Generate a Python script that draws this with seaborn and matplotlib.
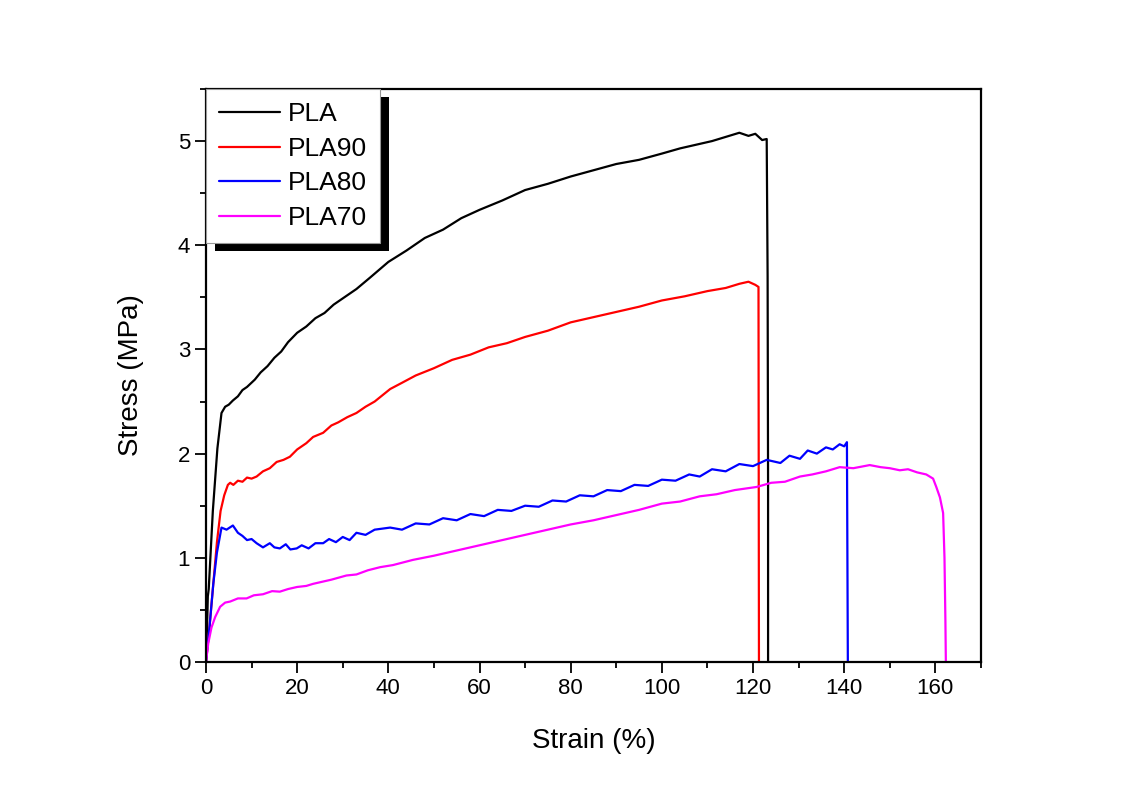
import matplotlib
matplotlib.use("Agg")
import matplotlib.pyplot as plt
from matplotlib.patches import Rectangle
from matplotlib.ticker import MultipleLocator
import seaborn as sns
import pandas as pd

# ---- data ----
pla_x = [0, 0.3, 0.4, 0.6, 1.5, 2.5, 3.4, 4.2, 5.0, 5.9, 7.0, 8.0, 9.0, 10.7, 12.0, 13.5, 15.0, 16.5, 18.0,
         20.0, 22.0, 24.0, 26.0, 28.0, 30.0, 33.0, 36.0, 40.0, 44.0, 48.0, 52.0, 56.0, 60.0, 65.0, 70.0,
         75.0, 80.0, 85.0, 90.0, 95.0, 100.0, 104.0, 108.0, 111.0, 114.0, 117.0, 119.0, 120.5, 122.0,
         123.0, 123.2, 123.3, 123.3]
pla_y = [0, 0.45, 0.63, 0.70, 1.45, 2.05, 2.39, 2.45, 2.47, 2.51, 2.55, 2.61, 2.64, 2.71, 2.78, 2.84, 2.92,
         2.98, 3.07, 3.16, 3.22, 3.30, 3.35, 3.43, 3.49, 3.58, 3.69, 3.84, 3.95, 4.07, 4.15, 4.26, 4.34,
         4.43, 4.53, 4.59, 4.66, 4.72, 4.78, 4.82, 4.88, 4.93, 4.97, 5.00, 5.04, 5.08, 5.05, 5.07, 5.01,
         5.02, 3.70, 1.70, 0]

pla90_x = [0, 0.8, 1.6, 2.4, 3.2, 4.0, 4.8, 5.3, 6.0, 7.0, 8.0, 9.0, 10.0, 11.1, 12.5, 14.0, 15.5, 17.0,
           18.4, 20.0, 22.0, 23.5, 25.7, 27.5, 29.0, 31.0, 33.0, 35.0, 37.0, 40.4, 43.0, 46.0, 50.0, 54.0,
           58.0, 62.0, 66.0, 70.0, 75.0, 80.0, 85.0, 90.0, 95.0, 100.0, 105.0, 110.0, 114.0, 117.0,
           119.0, 120.5, 121.2, 121.3]
pla90_y = [0, 0.35, 0.75, 1.15, 1.45, 1.60, 1.70, 1.72, 1.70, 1.74, 1.73, 1.77, 1.76, 1.78, 1.83, 1.86,
           1.92, 1.94, 1.97, 2.04, 2.10, 2.16, 2.20, 2.27, 2.30, 2.35, 2.39, 2.45, 2.50, 2.62, 2.68, 2.75,
           2.82, 2.90, 2.95, 3.02, 3.06, 3.12, 3.18, 3.26, 3.31, 3.36, 3.41, 3.47, 3.51, 3.56, 3.59, 3.63,
           3.65, 3.62, 3.60, 0]

pla80_x = [0, 0.8, 1.6, 2.4, 3.4, 4.5, 5.9, 7.0, 8.0, 9.0, 10.0, 11.1, 12.5, 14.0, 15.0, 16.2, 17.5, 18.5,
           19.9, 21.0, 22.5, 24.0, 25.7, 27.0, 28.5, 30.0, 31.5, 33.0, 35.0, 37.0, 40.4, 43.0, 46.0,
           49.0, 52.0, 55.0, 58.0, 61.0, 64.0, 67.0, 70.0, 73.0, 76.0, 79.0, 82.0, 85.0, 88.0, 91.0,
           94.0, 97.0, 100.0, 103.0, 106.0, 108.3, 111.0, 114.0, 117.0, 120.0, 123.0, 126.0, 128.0,
           130.3, 132.0, 134.0, 136.0, 137.5, 139.0, 140.0, 140.6, 140.8]
pla80_y = [0, 0.35, 0.75, 1.05, 1.29, 1.27, 1.31, 1.24, 1.21, 1.17, 1.18, 1.14, 1.10, 1.14, 1.10, 1.09,
           1.13, 1.08, 1.09, 1.12, 1.09, 1.14, 1.14, 1.18, 1.15, 1.20, 1.17, 1.24, 1.22, 1.27, 1.29, 1.27,
           1.33, 1.32, 1.38, 1.36, 1.42, 1.40, 1.46, 1.45, 1.50, 1.49, 1.55, 1.54, 1.60, 1.59, 1.65, 1.64,
           1.70, 1.69, 1.75, 1.74, 1.80, 1.78, 1.85, 1.83, 1.90, 1.88, 1.94, 1.91, 1.98, 1.95, 2.03, 2.00,
           2.06, 2.04, 2.09, 2.07, 2.11, 0]

pla70_x = [0, 0.5, 1.2, 2.0, 3.1, 4.2, 5.3, 7.0, 8.9, 10.5, 12.5, 14.5, 16.2, 18.0, 20.0, 22.0, 23.5,
           25.5, 27.5, 30.8, 33.0, 35.5, 38.2, 41.0, 45.4, 50.0, 55.0, 60.0, 65.0, 70.0, 75.0, 80.0,
           85.0, 90.0, 95.0, 100.0, 104.0, 108.3, 112.0, 116.0, 120.8, 124.0, 127.0, 130.3, 133.0,
           136.0, 139.0, 142.0, 145.6, 148.0, 150.0, 152.2, 154.0, 156.0, 158.0, 159.5, 160.2, 161.0,
           161.7, 162.0, 162.2, 162.3]
pla70_y = [0, 0.18, 0.33, 0.43, 0.53, 0.57, 0.58, 0.61, 0.61, 0.64, 0.65, 0.68, 0.675, 0.70, 0.72, 0.73,
           0.75, 0.77, 0.79, 0.83, 0.84, 0.88, 0.91, 0.93, 0.98, 1.02, 1.07, 1.12, 1.17, 1.22, 1.27, 1.32,
           1.36, 1.41, 1.46, 1.52, 1.54, 1.59, 1.61, 1.65, 1.68, 1.72, 1.73, 1.78, 1.80, 1.83, 1.87, 1.86,
           1.89, 1.87, 1.86, 1.84, 1.85, 1.82, 1.80, 1.76, 1.68, 1.58, 1.43, 1.00, 0.40, 0]

labels = ["PLA", "PLA90", "PLA80", "PLA70"]
colors = ["#000000", "#FF0000", "#0000FF", "#FF00FF"]
x_ticks = [0, 20, 40, 60, 80, 100, 120, 140, 160]
y_ticks = [0, 1, 2, 3, 4, 5]

frames = []
for lab, xs, ys in zip(labels, [pla_x, pla90_x, pla80_x, pla70_x], [pla_y, pla90_y, pla80_y, pla70_y]):
    frames.append(pd.DataFrame({"Strain": xs, "Stress": ys, "Sample": lab}))
df = pd.concat(frames, ignore_index=True)

sns.set_theme(style="ticks")
plt.rcParams["font.family"] = ["Liberation Sans", "DejaVu Sans"]
plt.rcParams["text.color"] = "black"
plt.rcParams["axes.labelcolor"] = "black"
plt.rcParams["xtick.color"] = "black"
plt.rcParams["ytick.color"] = "black"

fig = plt.figure(figsize=(11.3, 7.89), dpi=100)
ax = fig.add_axes([0.1823, 0.161, 0.6858, 0.7262])

sns.lineplot(data=df, x="Strain", y="Stress", hue="Sample", hue_order=labels,
             palette=dict(zip(labels, colors)), sort=False, estimator=None,
             units="Sample", linewidth=1.6, ax=ax)

ax.set_xlim(0, 170)
ax.set_ylim(0, 5.5)
ax.set_xticks(x_ticks)
ax.set_yticks(y_ticks)
ax.xaxis.set_minor_locator(MultipleLocator(10))
ax.yaxis.set_minor_locator(MultipleLocator(0.5))
ax.tick_params(which="major", direction="out", length=8, width=1.3, labelsize=16,
               colors="black", labelcolor="black")
ax.tick_params(which="minor", direction="out", length=4, width=1.3, colors="black")
for s in ax.spines.values():
    s.set_linewidth(1.6)
    s.set_color("black")
ax.set_xlabel("Strain (%)", fontsize=20, labelpad=21, color="black")
ax.set_ylabel("Stress (MPa)", fontsize=20, labelpad=24, color="black")

leg = ax.legend(loc="upper left", borderaxespad=0, fontsize=19, frameon=True, fancybox=False,
                handlelength=2.3, handletextpad=0.3, labelspacing=0.40, borderpad=0.5)
leg.get_frame().set_edgecolor("#999999")
leg.get_frame().set_linewidth(0.8)
leg.get_frame().set_alpha(1)
for t in leg.get_texts():
    t.set_color("black")
for h in leg.get_lines():
    h.set_linewidth(1.6)

fig.canvas.draw()
bb = leg.get_window_extent()
inv = ax.transAxes.inverted()
(x0, y0) = inv.transform((bb.x0 + 9, bb.y0 - 8))
(x1, y1) = inv.transform((bb.x1 + 9, bb.y1 - 8))
ax.add_patch(Rectangle((x0, y0), x1 - x0, y1 - y0, transform=ax.transAxes,
                       facecolor="black", edgecolor="none", zorder=4.5, clip_on=False))
leg.set_zorder(5)

fig.savefig("out.png", dpi=100, facecolor="white")
